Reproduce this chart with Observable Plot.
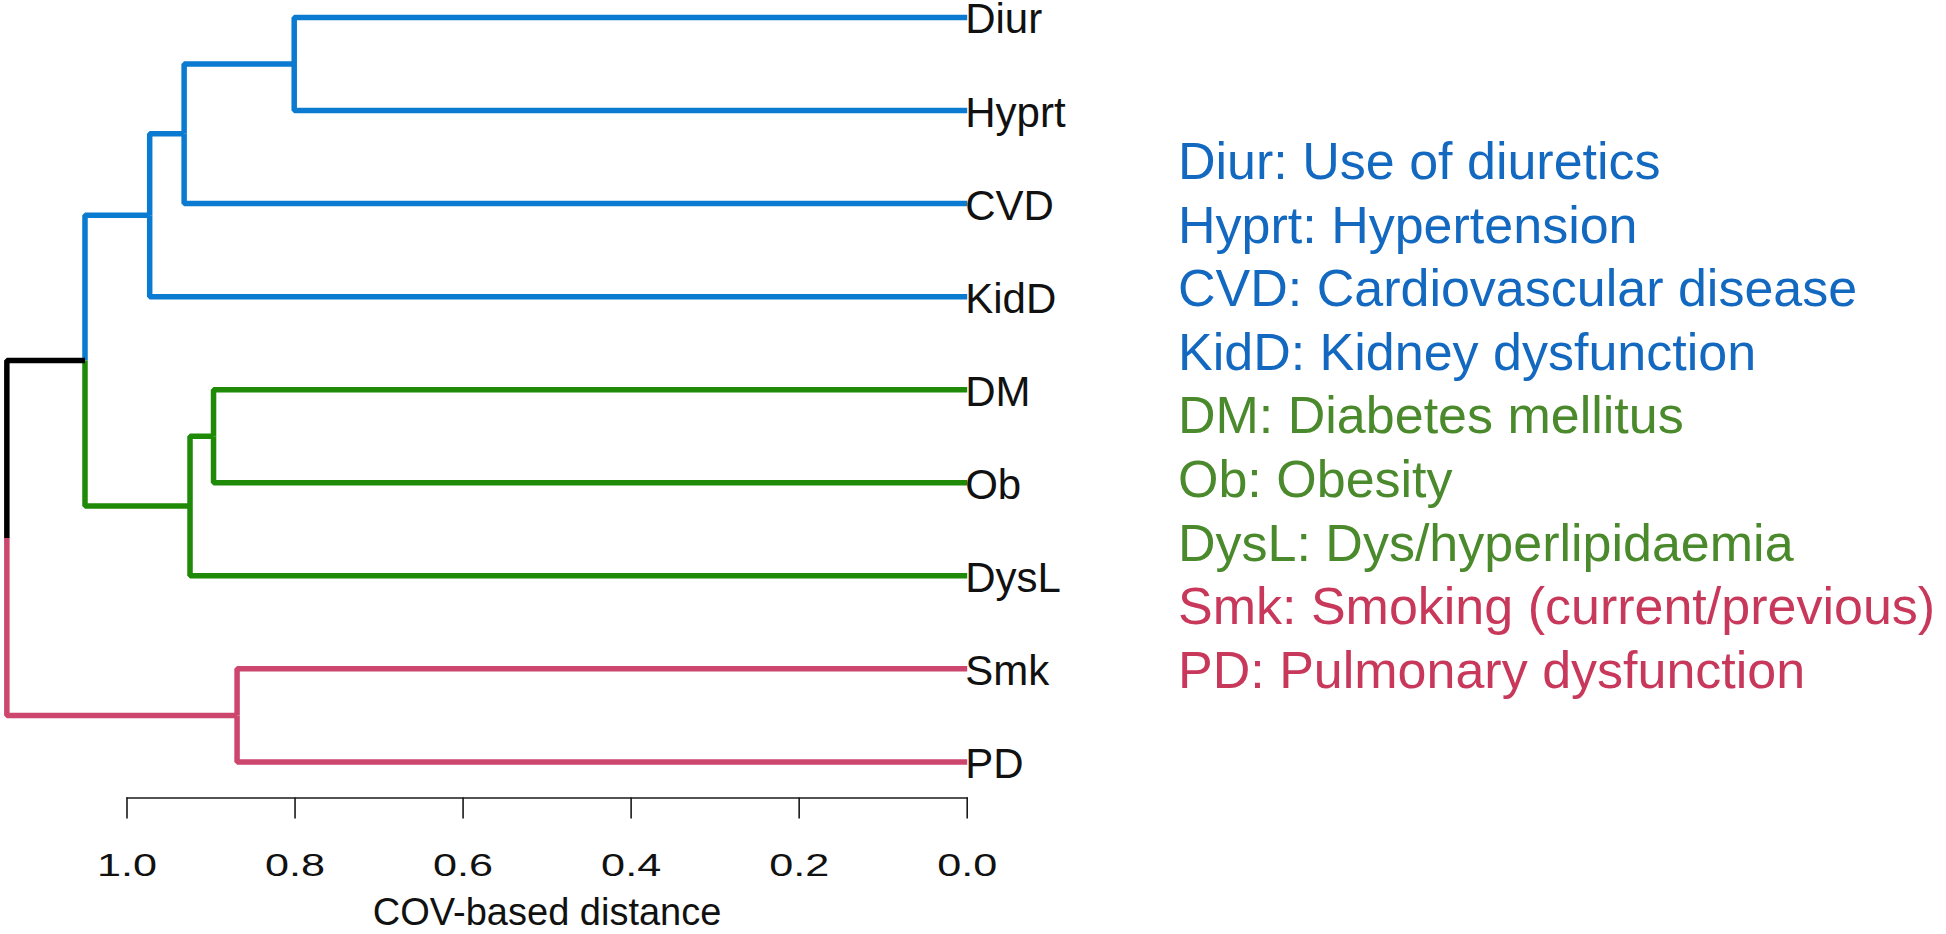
<!DOCTYPE html>
<html>
<head>
<meta charset="utf-8">
<script src="https://cdn.jsdelivr.net/npm/d3@7"></script>
<script src="https://cdn.jsdelivr.net/npm/@observablehq/plot@0.6"></script>
<style>
html, body { margin: 0; padding: 0; background: #fff; }
#wrap { position: relative; width: 1946px; height: 934px; overflow: hidden; }
#chart { position: absolute; left: 0; top: 0; }
#legend { position: absolute; left: 1178px; top: 130px; font-family: "Liberation Sans", Arial, sans-serif; font-size: 52px; line-height: 63.6px; white-space: nowrap; }
</style>
</head>
<body>
<div id="wrap"><div id="chart"></div><div id="legend"></div></div>
<script>
// ---- data ----
const leaves = ["Diur", "Hyprt", "CVD", "KidD", "DM", "Ob", "DysL", "Smk", "PD"];
const leafGroups = ["cardio", "cardio", "cardio", "cardio", "metabolic", "metabolic", "metabolic", "pulmonary", "pulmonary"];
const leafNames = ["Use of diuretics", "Hypertension", "Cardiovascular disease", "Kidney dysfunction",
  "Diabetes mellitus", "Obesity", "Dys/hyperlipidaemia", "Smoking (current/previous)", "Pulmonary dysfunction"];

// hclust-style merges (in order of height)
const mergeIds     = ["n1",   "n2",  "n3", "n4",   "n5",  "n6",   "n7", "n8"];
const mergeLeft    = ["Diur", "Smk", "DM", "n3",   "n1",  "n5",   "n6", "n7"];
const mergeRight   = ["Hyprt","PD",  "Ob", "DysL", "CVD", "KidD", "n4", "n2"];
const mergeHeights = [0.801,  0.869, 0.897, 0.925, 0.932, 0.973, 1.050, 1.143];

const xTicks = [1.0, 0.8, 0.6, 0.4, 0.2, 0.0];
const axisTitle = "COV-based distance";

const groupNames = ["cardio", "metabolic", "pulmonary", "mixed"];
const branchColors = ["#0a7bd0", "#1f8a07", "#cc466e", "#000000"];
const legendColors = ["#1368c0", "#4b8a2c", "#c8385a", "#000000"];

// ---- build dendrogram segments ----
const pos = {};
leaves.forEach((name, i) => { pos[name] = {x: 0, y: i, g: leafGroups[i]}; });
const segs = [];
let segId = 0;
mergeIds.forEach((id, k) => {
  const a = pos[mergeLeft[k]], b = pos[mergeRight[k]];
  const h = mergeHeights[k];
  const node = {x: h, y: (a.y + b.y) / 2, g: a.g === b.g ? a.g : "mixed"};
  pos[id] = node;
  for (const c of [a, b]) {
    segId++;
    segs.push({seg: segId, x: h, y: node.y, g: c.g});
    segs.push({seg: segId, x: h, y: c.y, g: c.g});
    segs.push({seg: segId, x: c.x, y: c.y, g: c.g});
  }
});
const leafRows = leaves.map((name, i) => ({name, x: 0, y: i}));

const chart = Plot.plot({
  width: 1170,
  height: 934,
  marginLeft: 126.5,
  marginRight: 203.3,
  marginTop: 17,
  marginBottom: 136.5,
  x: {domain: [1, 0]},
  y: {domain: [0, leaves.length - 1], range: [17, 761.4], axis: null},
  color: {type: "ordinal", domain: groupNames, range: branchColors},
  style: {fontFamily: "'Liberation Sans', Arial, sans-serif", background: "white", overflow: "visible"},
  marks: [
    Plot.frame({anchor: "bottom", stroke: "#1a1a1a", strokeWidth: 1.6}),
    Plot.axisX(xTicks, {
      anchor: "bottom", tickSize: 21, tickPadding: 34, tickFormat: d3.format(".1f"),
      fontSize: 32, stroke: "#1a1a1a", strokeWidth: 1.6, fill: "#111", label: null
    }),
    Plot.text([axisTitle], {text: d => d, frameAnchor: "bottom", lineAnchor: "bottom", dy: 127, fontSize: 38, fill: "#111"}),
    Plot.line(segs, {x: "x", y: "y", z: "seg", stroke: "g", strokeWidth: 5.5, strokeLinejoin: "miter", strokeLinecap: "butt"}),
    Plot.text(leafRows, {x: "x", y: "y", text: "name", textAnchor: "start", dx: -2, dy: 2.5, fontSize: 42, fill: "#111"})
  ]
});
document.getElementById("chart").appendChild(chart);

// stretch the tick labels horizontally as in the reference
chart.querySelectorAll('g[aria-label="x-axis tick label"] text').forEach(t => {
  const tr = t.getAttribute("transform");
  if (tr) t.setAttribute("transform", tr + " scale(1.35,1)");
});

// ---- legend ----
const legend = document.getElementById("legend");
leaves.forEach((code, i) => {
  const div = document.createElement("div");
  div.textContent = code + ": " + leafNames[i];
  div.style.color = legendColors[groupNames.indexOf(leafGroups[i])];
  legend.appendChild(div);
});
</script>
</body>
</html>
